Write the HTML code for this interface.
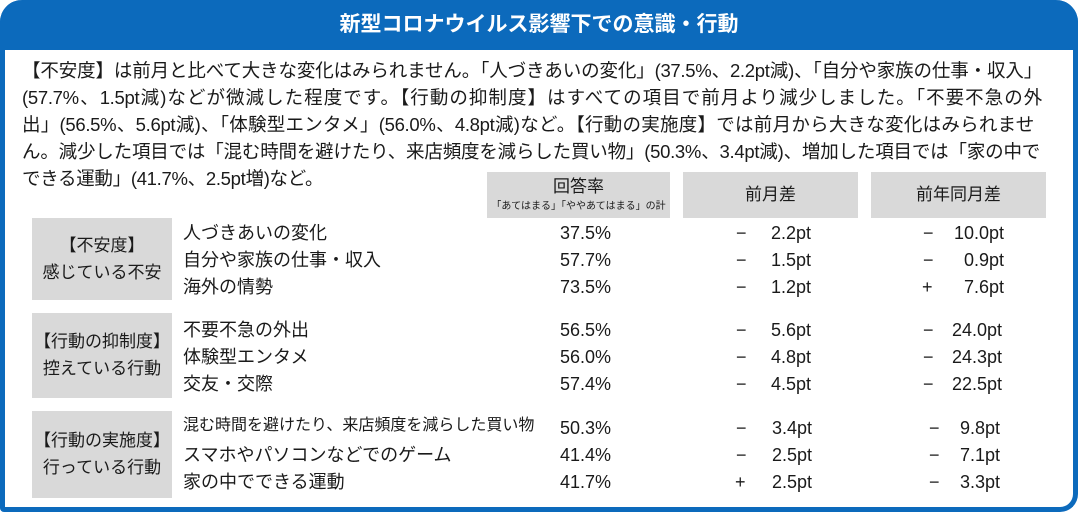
<!DOCTYPE html>
<html><head><meta charset="utf-8"><style>
*{margin:0;padding:0;box-sizing:border-box}
body{width:1078px;height:512px;background:#fff;position:relative;overflow:hidden;font-family:"Liberation Sans","Noto Sans CJK JP",sans-serif;color:#1a1a1a}
#frame{position:absolute;left:0;top:0;width:1078px;height:512px;border:5px solid #0c6abc;border-top:none;border-radius:22px 22px 18px 4px;}
#hd{position:absolute;left:0;top:0;width:1078px;height:50px;background:#0c6abc;border-radius:22px 22px 0 0;color:#fff;font-weight:bold;font-size:21px;text-align:center;line-height:50px}
#txt{position:absolute;left:22px;top:57px;width:1050px;font-size:18.5px;line-height:27px;letter-spacing:-0.3px;white-space:nowrap}
#txt .j{width:1020px;text-align:justify;text-align-last:justify;white-space:normal;height:27px;overflow:hidden}
.hb{position:absolute;top:172px;height:46px;background:#d9d9d9;text-align:center;font-size:17px}
.gb{position:absolute;left:32px;width:140px;background:#d9d9d9;text-align:center;font-size:17px;line-height:27px}
.r{position:absolute;font-size:18px;white-space:nowrap;line-height:22px}
</style></head><body>
<div id="frame"></div>
<div id="hd">新型コロナウイルス影響下での意識・行動</div>
<div id="txt"><div class="j">【不安度】は前月と比べて大きな変化はみられません。「人づきあいの変化」(37.5%、2.2pt減)、「自分や家族の仕事・収入」</div><div class="j">(57.7%、1.5pt減)などが微減した程度です。【行動の抑制度】はすべての項目で前月より減少しました。「不要不急の外</div><div class="j" style="width:1012px">出」(56.5%、5.6pt減)、「体験型エンタメ」(56.0%、4.8pt減)など。【行動の実施度】では前月から大きな変化はみられませ</div><div class="j" style="width:1018px">ん。減少した項目では「混む時間を避けたり、来店頻度を減らした買い物」(50.3%、3.4pt減)、増加した項目では「家の中で</div><div>できる運動」(41.7%、2.5pt増)など。</div></div>
<div class="hb" style="left:487px;width:183px"><div style="line-height:26px;padding-top:2px">回答率</div><div style="font-size:10px;line-height:14px">「あてはまる」「ややあてはまる」の計</div></div>
<div class="hb" style="left:683px;width:175px;line-height:46px">前月差</div>
<div class="hb" style="left:871px;width:175px;line-height:46px">前年同月差</div>
<div class="gb" style="top:218px;height:82px;padding-top:14px">【不安度】<br>感じている不安</div>
<div class="gb" style="top:313px;height:85px;padding-top:15px">【行動の抑制度】<br>控えている行動</div>
<div class="gb" style="top:411px;height:87px;padding-top:16px">【行動の実施度】<br>行っている行動</div>
<div class="r" style="left:183px;top:222px">人づきあいの変化</div>
<div class="r" style="left:183px;top:249px">自分や家族の仕事・収入</div>
<div class="r" style="left:183px;top:276px">海外の情勢</div>
<div class="r" style="left:183px;top:319px">不要不急の外出</div>
<div class="r" style="left:183px;top:346px">体験型エンタメ</div>
<div class="r" style="left:183px;top:373px">交友・交際</div>
<div class="r" style="left:183px;top:415px;font-size:16px">混む時間を避けたり、来店頻度を減らした買い物</div>
<div class="r" style="left:183px;top:444px">スマホやパソコンなどでのゲーム</div>
<div class="r" style="left:183px;top:471px">家の中でできる運動</div>
<div class="r" style="left:560px;top:222px">37.5%</div>
<div class="r" style="left:560px;top:249px">57.7%</div>
<div class="r" style="left:560px;top:276px">73.5%</div>
<div class="r" style="left:560px;top:319px">56.5%</div>
<div class="r" style="left:560px;top:346px">56.0%</div>
<div class="r" style="left:560px;top:373px">57.4%</div>
<div class="r" style="left:560px;top:417px">50.3%</div>
<div class="r" style="left:560px;top:444px">41.4%</div>
<div class="r" style="left:560px;top:471px">41.7%</div>
<div class="r" style="left:736px;top:222px">−</div><div class="r" style="left:771px;top:222px">2.2pt</div>
<div class="r" style="left:736px;top:249px">−</div><div class="r" style="left:771px;top:249px">1.5pt</div>
<div class="r" style="left:736px;top:276px">−</div><div class="r" style="left:771px;top:276px">1.2pt</div>
<div class="r" style="left:736px;top:319px">−</div><div class="r" style="left:771px;top:319px">5.6pt</div>
<div class="r" style="left:736px;top:346px">−</div><div class="r" style="left:771px;top:346px">4.8pt</div>
<div class="r" style="left:736px;top:373px">−</div><div class="r" style="left:771px;top:373px">4.5pt</div>
<div class="r" style="left:736px;top:417px">−</div><div class="r" style="left:772px;top:417px">3.4pt</div>
<div class="r" style="left:736px;top:444px">−</div><div class="r" style="left:772px;top:444px">2.5pt</div>
<div class="r" style="left:735px;top:471px">+</div><div class="r" style="left:772px;top:471px">2.5pt</div>
<div class="r" style="left:923px;top:222px">−</div><div class="r" style="left:948px;top:222px;width:56px;text-align:right">10.0pt</div>
<div class="r" style="left:923px;top:249px">−</div><div class="r" style="left:948px;top:249px;width:56px;text-align:right">0.9pt</div>
<div class="r" style="left:922px;top:276px">+</div><div class="r" style="left:948px;top:276px;width:56px;text-align:right">7.6pt</div>
<div class="r" style="left:923px;top:319px">−</div><div class="r" style="left:948px;top:319px;width:54px;text-align:right">24.0pt</div>
<div class="r" style="left:923px;top:346px">−</div><div class="r" style="left:948px;top:346px;width:54px;text-align:right">24.3pt</div>
<div class="r" style="left:923px;top:373px">−</div><div class="r" style="left:948px;top:373px;width:54px;text-align:right">22.5pt</div>
<div class="r" style="left:929px;top:417px">−</div><div class="r" style="left:948px;top:417px;width:52px;text-align:right">9.8pt</div>
<div class="r" style="left:929px;top:444px">−</div><div class="r" style="left:948px;top:444px;width:52px;text-align:right">7.1pt</div>
<div class="r" style="left:929px;top:471px">−</div><div class="r" style="left:948px;top:471px;width:52px;text-align:right">3.3pt</div>
</body></html>
